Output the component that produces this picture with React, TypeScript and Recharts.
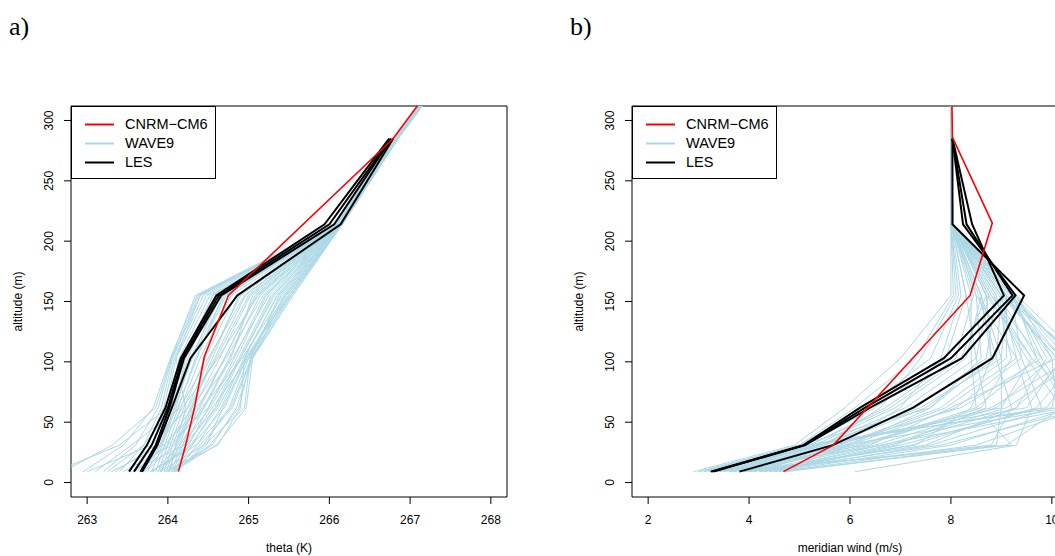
import * as React from 'react';
import { LineChart, Line, XAxis, YAxis, Legend, ReferenceArea } from 'recharts';

// altitude levels (m)
const waveLevels = [9, 31, 62, 103, 155, 214, 285, 313];
const lesLevels = [9, 31, 62, 103, 155, 214, 285];

// panel a: theta (K)
const thetaCnrmLevels = [9, 31, 62, 104, 155, 285, 313];
const thetaCnrm = [264.13, 264.22, 264.33, 264.45, 264.75, 266.79, 267.1];

const thetaLes = [
	[263.52, 263.74, 263.97, 264.16, 264.6, 265.94, 266.74],
	[263.58, 263.8, 264.0, 264.18, 264.63, 266.0, 266.76],
	[263.66, 263.85, 264.02, 264.2, 264.66, 266.06, 266.77],
	[263.68, 263.87, 264.05, 264.28, 264.86, 266.14, 266.79],
];

const thetaWave9 = [
	[262.7, 263.31, 263.85, 264.04, 264.34, 266.08, 266.8, 267.12],
	[262.95, 263.45, 263.82, 264.03, 264.36, 266.09, 266.8, 267.12],
	[263.2, 263.6, 263.88, 264.05, 264.38, 266.1, 266.81, 267.12],
	[263.4, 263.7, 263.92, 264.06, 264.4, 266.1, 266.81, 267.13],
	[263.5, 263.75, 263.95, 264.08, 264.44, 266.11, 266.81, 267.13],
	[263.6, 263.8, 263.98, 264.1, 264.48, 266.11, 266.82, 267.13],
	[263.65, 263.85, 264.0, 264.14, 264.52, 266.12, 266.82, 267.13],
	[263.7, 263.88, 264.04, 264.18, 264.56, 266.12, 266.82, 267.13],
	[263.75, 263.9, 264.08, 264.22, 264.6, 266.12, 266.82, 267.14],
	[263.8, 263.93, 264.1, 264.28, 264.66, 266.13, 266.82, 267.14],
	[263.85, 263.96, 264.13, 264.34, 264.72, 266.13, 266.83, 267.14],
	[263.88, 264.0, 264.16, 264.4, 264.78, 266.13, 266.83, 267.14],
	[263.92, 264.03, 264.2, 264.46, 264.84, 266.14, 266.83, 267.14],
	[263.95, 264.06, 264.24, 264.52, 264.9, 266.14, 266.83, 267.14],
	[263.98, 264.1, 264.28, 264.58, 264.96, 266.14, 266.83, 267.15],
	[264.0, 264.14, 264.32, 264.64, 265.02, 266.14, 266.83, 267.15],
	[264.03, 264.18, 264.38, 264.7, 265.08, 266.15, 266.84, 267.15],
	[264.05, 264.22, 264.44, 264.76, 265.14, 266.15, 266.84, 267.15],
	[264.07, 264.26, 264.5, 264.82, 265.2, 266.15, 266.84, 267.15],
	[264.08, 264.3, 264.58, 264.88, 265.28, 266.15, 266.84, 267.15],
	[264.1, 264.36, 264.66, 264.94, 265.36, 266.15, 266.84, 267.16],
	[264.1, 264.44, 264.76, 265.0, 265.44, 266.16, 266.84, 267.16],
	[264.09, 264.52, 264.88, 265.03, 265.5, 266.16, 266.85, 267.16],
	[264.06, 264.6, 264.97, 265.05, 265.55, 266.16, 266.85, 267.16],
	[263.55, 264.2, 264.6, 264.9, 265.3, 266.14, 266.83, 267.15],
	[263.3, 263.95, 264.4, 264.7, 265.1, 266.13, 266.82, 267.14],
	[263.9, 264.45, 264.95, 265.02, 265.4, 266.15, 266.84, 267.16],
	[263.1, 263.55, 264.15, 264.5, 264.95, 266.12, 266.82, 267.14],
	[263.8, 264.3, 264.7, 264.98, 265.48, 266.16, 266.85, 267.16],
	[264.02, 264.1, 264.22, 264.1, 264.4, 266.1, 266.81, 267.13],
	[263.7, 264.0, 264.5, 264.85, 265.22, 266.15, 266.84, 267.15],
	[263.95, 264.62, 264.9, 264.95, 265.35, 266.15, 266.84, 267.16],
	[262.6, 263.4, 264.0, 264.3, 264.7, 266.12, 266.82, 267.13],
	[263.0, 263.8, 264.25, 264.6, 265.0, 266.13, 266.83, 267.14],
	[263.62, 263.9, 264.18, 264.62, 265.12, 266.14, 266.83, 267.15],
	[263.72, 264.08, 264.35, 264.8, 265.25, 266.15, 266.84, 267.15],
	[263.82, 264.15, 264.42, 264.92, 265.42, 266.15, 266.84, 267.16],
	[263.86, 264.24, 264.55, 265.0, 265.52, 266.16, 266.85, 267.16],
	[263.9, 264.12, 264.3, 264.72, 265.18, 266.14, 266.83, 267.15],
	[263.98, 264.28, 264.62, 264.96, 265.46, 266.16, 266.85, 267.16],
	[264.04, 264.4, 264.8, 265.04, 265.53, 266.16, 266.85, 267.16],
	[263.45, 264.05, 264.45, 264.78, 265.05, 266.13, 266.83, 267.14],
	[263.58, 263.98, 264.3, 264.55, 264.88, 266.13, 266.83, 267.14],
	[263.35, 263.85, 264.12, 264.36, 264.68, 266.12, 266.82, 267.14],
	[263.68, 263.92, 264.08, 264.3, 264.62, 266.12, 266.82, 267.13],
	[264.0, 264.55, 264.85, 265.05, 265.45, 266.16, 266.85, 267.16],
	[263.78, 264.35, 264.78, 265.03, 265.38, 266.15, 266.84, 267.16],
	[263.92, 264.18, 264.52, 264.9, 265.32, 266.15, 266.84, 267.15],
	[264.08, 264.48, 264.68, 264.97, 265.5, 266.16, 266.85, 267.16],
	[263.25, 263.7, 264.05, 264.25, 264.55, 266.11, 266.82, 267.13],
];

// panel b: meridian wind (m/s)
const windCnrmLevels = [9, 31, 155, 215, 286, 313];
const windCnrm = [4.68, 5.67, 8.38, 8.82, 8.03, 8.02];

const windLes = [
	[3.24, 5.08, 6.2, 7.86, 9.05, 8.42, 8.03],
	[3.26, 5.1, 6.3, 8.0, 9.22, 8.31, 8.03],
	[3.3, 5.11, 6.4, 8.22, 9.28, 8.24, 8.03],
	[3.81, 5.66, 7.25, 8.82, 9.45, 8.03, 8.03],
];

const windWave9 = [
	[2.9, 4.9, 5.9, 7.0, 8.0, 8.0, 8.0, 8.0],
	[3.0, 5.0, 6.1, 7.3, 8.05, 8.0, 8.0, 8.0],
	[3.1, 5.0, 6.3, 7.6, 8.15, 8.0, 8.0, 8.0],
	[3.2, 5.1, 6.5, 7.9, 8.3, 8.01, 8.0, 8.0],
	[3.3, 5.2, 6.7, 8.1, 8.45, 8.01, 8.0, 8.0],
	[3.4, 5.3, 6.9, 8.3, 8.6, 8.02, 8.0, 8.0],
	[3.5, 5.4, 7.1, 8.5, 8.75, 8.02, 8.0, 8.0],
	[3.6, 5.5, 7.3, 8.7, 8.9, 8.03, 8.0, 8.0],
	[3.7, 5.6, 7.5, 8.9, 9.0, 8.03, 8.0, 8.0],
	[3.8, 5.8, 7.8, 9.1, 9.1, 8.04, 8.0, 8.0],
	[3.9, 6.0, 8.1, 9.4, 9.2, 8.04, 8.0, 8.0],
	[4.0, 6.2, 8.5, 9.7, 9.25, 8.05, 8.0, 8.0],
	[4.1, 6.5, 8.9, 10.0, 9.3, 8.05, 8.0, 8.0],
	[4.2, 6.8, 9.3, 10.3, 9.2, 8.04, 8.0, 8.0],
	[4.3, 7.2, 9.7, 10.5, 9.1, 8.03, 8.0, 8.0],
	[4.4, 7.6, 10.0, 10.2, 9.0, 8.03, 8.0, 8.0],
	[4.5, 8.0, 10.4, 9.8, 8.8, 8.02, 8.0, 8.0],
	[4.6, 8.5, 10.6, 9.6, 8.7, 8.02, 8.0, 8.0],
	[4.7, 8.9, 9.0, 9.0, 8.6, 8.01, 8.0, 8.0],
	[3.6, 9.2, 8.5, 8.4, 8.4, 8.01, 8.0, 8.0],
	[6.1, 9.3, 9.6, 9.3, 8.5, 8.02, 8.0, 8.0],
	[3.3, 5.1, 10.1, 10.0, 9.1, 8.03, 8.0, 8.0],
	[3.5, 5.3, 9.9, 10.6, 9.0, 8.03, 8.0, 8.0],
	[4.0, 5.6, 9.0, 9.6, 8.8, 8.02, 8.0, 8.0],
	[3.8, 6.4, 8.0, 10.1, 9.0, 8.03, 8.0, 8.0],
	[4.2, 5.8, 7.0, 7.8, 8.2, 8.01, 8.0, 8.0],
	[3.2, 5.5, 6.6, 7.4, 8.1, 8.0, 8.0, 8.0],
	[4.4, 6.9, 8.7, 8.5, 8.3, 8.01, 8.0, 8.0],
	[3.9, 7.5, 9.3, 9.9, 9.2, 8.04, 8.0, 8.0],
	[4.6, 6.0, 7.6, 8.8, 8.6, 8.02, 8.0, 8.0],
	[3.0, 5.2, 6.8, 8.2, 8.7, 8.02, 8.0, 8.0],
	[3.1, 5.4, 7.4, 9.0, 9.1, 8.03, 8.0, 8.0],
	[3.4, 5.7, 8.2, 9.8, 9.2, 8.04, 8.0, 8.0],
	[3.6, 6.1, 8.8, 10.4, 9.25, 8.04, 8.0, 8.0],
	[3.7, 5.2, 9.5, 10.2, 9.15, 8.03, 8.0, 8.0],
	[4.1, 5.9, 10.3, 9.7, 8.95, 8.03, 8.0, 8.0],
	[4.3, 6.6, 10.5, 10.1, 9.05, 8.03, 8.0, 8.0],
	[4.5, 7.0, 9.8, 9.4, 8.85, 8.02, 8.0, 8.0],
	[3.4, 6.3, 8.6, 9.2, 8.9, 8.02, 8.0, 8.0],
	[3.9, 8.8, 9.2, 8.9, 8.55, 8.01, 8.0, 8.0],
	[4.7, 9.1, 10.2, 9.5, 8.75, 8.02, 8.0, 8.0],
	[3.2, 5.0, 7.6, 8.6, 8.5, 8.01, 8.0, 8.0],
	[4.2, 7.8, 10.7, 10.4, 9.2, 8.04, 8.0, 8.0],
	[3.5, 5.9, 7.9, 9.3, 9.0, 8.03, 8.0, 8.0],
	[4.0, 7.3, 8.4, 8.8, 8.7, 8.02, 8.0, 8.0],
	[3.3, 6.7, 9.1, 10.6, 9.3, 8.05, 8.0, 8.0],
];

const thetaTicks = [263, 264, 265, 266, 267, 268];
const windTicks = [2, 4, 6, 8, 10];
const altTicks = [0, 50, 100, 150, 200, 250, 300];

const legendNames = ['CNRM\u2212CM6', 'WAVE9', 'LES'];
const legendColors = ['#ff0000', '#add8e6', '#000000'];

const FONT = '"Liberation Sans", Arial, Helvetica, sans-serif';

function profile(values: number[], alts: number[]) {
	return values.map((v, i) => ({ v, alt: alts[i] }));
}

function YTick(props: any) {
	const { x, y, payload } = props;
	return (
		<text
			x={x}
			y={y}
			transform={`rotate(-90 ${x} ${y})`}
			textAnchor="middle"
			fontSize={12}
			fontFamily={FONT}
			fill="#000"
		>
			{payload.value}
		</text>
	);
}

function XTitle(props: any) {
	const { viewBox, text } = props;
	const { x, y, width } = viewBox;
	return (
		<text x={x + width / 2} y={y + 55} textAnchor="middle" fontSize={12} fontFamily={FONT} fill="#000">
			{text}
		</text>
	);
}

function YTitle(props: any) {
	const { viewBox, text, left } = props;
	const cy = viewBox.y + viewBox.height / 2;
	const x = left;
	return (
		<text x={x} y={cy} transform={`rotate(-90 ${x} ${cy})`} textAnchor="middle" fontSize={12} fontFamily={FONT} fill="#000">
			{text}
		</text>
	);
}

function LegendBox() {
	return (
		<div
			style={{
				width: 145,
				height: 73,
				border: '1px solid #000',
				boxSizing: 'border-box',
				background: '#fff',
				position: 'relative',
				fontFamily: FONT,
				fontSize: 14.5,
				color: '#000',
			}}
		>
			{legendNames.map((name, i) => (
				<div key={name} style={{ position: 'absolute', left: 0, top: 8 + i * 19, height: 19, width: 143 }}>
					<svg width={40} height={19} style={{ position: 'absolute', left: 12, top: 0 }}>
						<line x1={1} x2={30} y1={9.5} y2={9.5} stroke={legendColors[i]} strokeWidth={2} />
					</svg>
					<span style={{ position: 'absolute', left: 53, top: 1, lineHeight: '17px' }}>{name}</span>
				</div>
			))}
		</div>
	);
}

type PanelProps = {
	left: number;
	xDomain: [number, number];
	xTicks: number[];
	xTitle: string;
	wave9: number[][];
	les: number[][];
	cnrm: number[];
	cnrmLevels: number[];
};

function Panel({ left, xDomain, xTicks, xTitle, wave9, les, cnrm, cnrmLevels }: PanelProps) {
	return (
		<div style={{ position: 'absolute', left, top: 0 }}>
			<LineChart width={520} height={556} margin={{ top: 106, right: 13, bottom: 0, left: 0 }}>
				<XAxis
					type="number"
					dataKey="v"
					domain={xDomain}
					allowDataOverflow
					ticks={xTicks}
					interval={0}
					height={59}
					axisLine={false}
					tickLine={{ stroke: '#000' }}
					tickSize={7}
					tickMargin={11}
					tick={{ fill: '#000', fontSize: 12, fontFamily: FONT }}
					label={<XTitle text={xTitle} />}
				/>
				<YAxis
					type="number"
					dataKey="alt"
					domain={[-12, 312]}
					allowDataOverflow
					ticks={altTicks}
					interval={0}
					width={71}
					axisLine={false}
					tickLine={{ stroke: '#000' }}
					tickSize={7}
					tickMargin={10.7}
					tick={<YTick />}
					label={<YTitle text="altitude (m)" left={21.5} />}
				/>
				<ReferenceArea
					x1={xDomain[0]}
					x2={xDomain[1]}
					y1={-12}
					y2={312}
					fill="none"
					fillOpacity={0}
					stroke="#000"
					strokeWidth={1}
					ifOverflow="visible"
				/>
				{wave9.map((vals, i) => (
					<Line
						key={`w${i}`}
						data={profile(vals, waveLevels)}
						dataKey="alt"
						type="linear"
						stroke="#add8e6"
						strokeWidth={1}
						dot={false}
						activeDot={false}
						isAnimationActive={false}
					/>
				))}
				{les.map((vals, i) => (
					<Line
						key={`l${i}`}
						data={profile(vals, lesLevels)}
						dataKey="alt"
						type="linear"
						stroke="#000"
						strokeWidth={2}
						dot={false}
						activeDot={false}
						isAnimationActive={false}
					/>
				))}
				<Line
					data={profile(cnrm, cnrmLevels)}
					dataKey="alt"
					type="linear"
					stroke="#ff0000"
					strokeWidth={1.6}
					dot={false}
					activeDot={false}
					isAnimationActive={false}
				/>
				<Legend
					content={<LegendBox />}
					layout="horizontal"
					verticalAlign="middle"
					align="center"
					wrapperStyle={{ left: 71, top: 106, width: 145, height: 73 }}
				/>
			</LineChart>
		</div>
	);
}

export default function App() {
	return (
		<div style={{ position: 'fixed', left: 0, top: 0, width: 1055, height: 556, overflow: 'hidden', background: '#fff' }}>
			<svg width={1055} height={60} style={{ position: 'absolute', left: 0, top: 0 }}>
				<text x={9} y={35} fontSize={26} fontFamily='"Liberation Serif", "Times New Roman", serif' fill="#000">a)</text>
				<text x={570} y={35} fontSize={26} fontFamily='"Liberation Serif", "Times New Roman", serif' fill="#000">b)</text>
			</svg>
			<Panel
				left={0}
				xDomain={[262.8, 268.2]}
				xTicks={thetaTicks}
				xTitle="theta (K)"
				wave9={thetaWave9}
				les={thetaLes}
				cnrm={thetaCnrm}
				cnrmLevels={thetaCnrmLevels}
			/>
			<Panel
				left={561}
				xDomain={[1.68, 10.32]}
				xTicks={windTicks}
				xTitle="meridian wind (m/s)"
				wave9={windWave9}
				les={windLes}
				cnrm={windCnrm}
				cnrmLevels={windCnrmLevels}
			/>
		</div>
	);
}
